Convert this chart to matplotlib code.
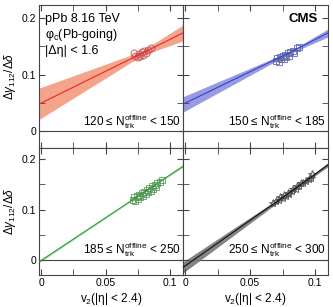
import matplotlib
matplotlib.use('Agg')
import matplotlib.pyplot as plt
from matplotlib.ticker import MultipleLocator

# ---- data ----
# points per multiplicity class (v2, dgamma/ddelta)
red_x = [0.072, 0.073, 0.075, 0.076, 0.077, 0.078, 0.079, 0.080, 0.081, 0.083, 0.085]
red_y = [0.138, 0.132, 0.130, 0.136, 0.133, 0.140, 0.135, 0.141, 0.138, 0.143, 0.146]

blue_x = [0.070, 0.071, 0.072, 0.073, 0.074, 0.075, 0.076, 0.077, 0.078, 0.079,
          0.080, 0.081, 0.083, 0.084, 0.086, 0.088]
blue_y = [0.124, 0.129, 0.122, 0.131, 0.127, 0.133, 0.128, 0.135, 0.131, 0.137,
          0.133, 0.139, 0.141, 0.138, 0.146, 0.149]

green_x = [0.071, 0.072, 0.073, 0.074, 0.075, 0.076, 0.077, 0.078, 0.079, 0.080, 0.081,
           0.082, 0.083, 0.084, 0.085, 0.086, 0.087, 0.088, 0.089, 0.090, 0.092, 0.094]
green_y = [0.120, 0.125, 0.118, 0.127, 0.122, 0.130, 0.126, 0.133, 0.128, 0.136, 0.131,
           0.139, 0.135, 0.142, 0.138, 0.146, 0.141, 0.149, 0.145, 0.152, 0.154, 0.158]

black_x = [0.068, 0.070, 0.072, 0.073, 0.075, 0.076, 0.078, 0.079, 0.080, 0.082,
           0.083, 0.085, 0.086, 0.088, 0.089, 0.091, 0.093, 0.095, 0.097, 0.098]
black_y = [0.113, 0.117, 0.120, 0.125, 0.124, 0.130, 0.128, 0.134, 0.131, 0.137,
           0.140, 0.141, 0.146, 0.147, 0.152, 0.153, 0.157, 0.160, 0.163, 0.170]

# fit lines + bands: x at left edge, pivot, right edge
red_fx = [-0.0016, 0.078, 0.110]
red_fc = [0.048, 0.137, 0.173]
red_flo = [0.021, 0.133, 0.159]
red_fhi = [0.076, 0.141, 0.187]

blue_fx = [-0.0016, 0.080, 0.110]
blue_fc = [0.048, 0.138, 0.173]
blue_flo = [0.034, 0.136, 0.166]
blue_fhi = [0.061, 0.140, 0.180]

green_fx = [-0.0016, 0.080, 0.110]
green_fc = [-0.003, 0.135, 0.186]
green_flo = [-0.005, 0.134, 0.184]
green_fhi = [-0.001, 0.136, 0.188]

black_fx = [-0.0016, 0.085, 0.110]
black_fc = [-0.014, 0.142, 0.189]
black_flo = [-0.025, 0.140, 0.185]
black_fhi = [-0.003, 0.144, 0.193]

labels = ['120', '150', '185', '250', '300']

plt.rcParams['font.family'] = ['Liberation Sans', 'DejaVu Sans']
plt.rcParams['mathtext.fontset'] = 'custom'
plt.rcParams['mathtext.rm'] = 'Liberation Sans'
plt.rcParams['mathtext.it'] = 'Liberation Sans:italic'
plt.rcParams['mathtext.bf'] = 'Liberation Sans:bold'

fig = plt.figure(figsize=(3.33, 3.07), dpi=100)
W, H = 333., 307.
def box(x0, y0, x1, y1):
    return [x0 / W, 1 - y1 / H, (x1 - x0) / W, (y1 - y0) / H]

ax1 = fig.add_axes(box(39, 5, 183, 148))
ax2 = fig.add_axes(box(183, 5, 328, 148))
ax3 = fig.add_axes(box(39, 148, 183, 275))
ax4 = fig.add_axes(box(183, 148, 328, 275))

panels = [
    (ax1, red_x, red_y, red_fx, red_fc, red_flo, red_fhi, '#e8262a', '#f49a80', 'o', 5, 0),
    (ax2, blue_x, blue_y, blue_fx, blue_fc, blue_flo, blue_fhi, '#3344c0', '#8f8fe0', 's', 4, 1),
    (ax3, green_x, green_y, green_fx, green_fc, green_flo, green_fhi, '#2ca02c', '#a0d8a0', 's', 4, 2),
    (ax4, black_x, black_y, black_fx, black_fc, black_flo, black_fhi, '#111111', '#777777', '*', 6, 3),
]

for ax, px, py, fx, fc, flo, fhi, lc, bc, mk, ms, i in panels:
    ax.fill_between(fx, flo, fhi, color=bc, lw=0, alpha=0.9, zorder=1)
    ax.plot(fx, fc, color=lc, lw=0.8, zorder=3)
    ax.plot(px, py, ls='none', marker=mk, ms=ms, mfc='none', mec=lc, mew=0.7, alpha=0.7, zorder=2)
    ax.plot(px, py, ls='none', marker=mk, ms=ms, mfc='none', mec='#888888', mew=0.4, alpha=0.5, zorder=2)
    ax.axhline(0, color='#444444', lw=0.8, zorder=0)
    ax.set_xlim(-0.0016, 0.110)
    ax.set_ylim(-0.029, 0.222)
    ax.xaxis.set_major_locator(MultipleLocator(0.05))
    ax.xaxis.set_minor_locator(MultipleLocator(0.025))
    ax.yaxis.set_major_locator(MultipleLocator(0.1))
    ax.yaxis.set_minor_locator(MultipleLocator(0.05))
    ax.tick_params(which='both', direction='in', top=True, right=True,
                   labelsize=7.5, pad=2, color='#444444')
    ax.tick_params(which='major', length=4)
    ax.tick_params(which='minor', length=4)
    for s in ax.spines.values():
        s.set_color('#444444')
        s.set_linewidth(0.8)
    ax.text(0.985, 0.155 if i < 2 else 0.17,
            labels[i] + ' ≤ N$_{\\mathrm{trk}}^{\\mathrm{offline}}$ < ' + labels[i + 1],
            transform=ax.transAxes, ha='right', va='baseline', fontsize=8.5)
    if i in (0, 2):
        ax.set_ylabel(r'$\Delta\gamma_{112}/\Delta\delta$', fontsize=8.5, labelpad=3)
        ax.yaxis.set_major_formatter(plt.FuncFormatter(lambda v, p: '0' if abs(v) < 1e-9 else '%g' % v))
    else:
        ax.tick_params(labelleft=False)
    if i in (2, 3):
        ax.set_xlabel('v$_2$(|η| < 2.4)', fontsize=8.5, labelpad=2)
        ax.xaxis.set_major_formatter(plt.FuncFormatter(lambda v, p: '0' if abs(v) < 1e-9 else '%g' % v))
    else:
        ax.tick_params(labelbottom=False)

ax1.text(0.04, 0.88, 'pPb 8.16 TeV', transform=ax1.transAxes, fontsize=9, va='baseline')
ax1.text(0.04, 0.77, 'φ$_{\\mathrm{c}}$(Pb-going)', transform=ax1.transAxes, fontsize=9, va='baseline')
ax1.text(0.04, 0.66, '|Δη| < 1.6', transform=ax1.transAxes, fontsize=9, va='baseline')
ax2.text(0.93, 0.88, 'CMS', transform=ax2.transAxes, fontsize=9.5, fontweight='bold',
         ha='right', va='baseline')

fig.savefig('out.png', dpi=100)
